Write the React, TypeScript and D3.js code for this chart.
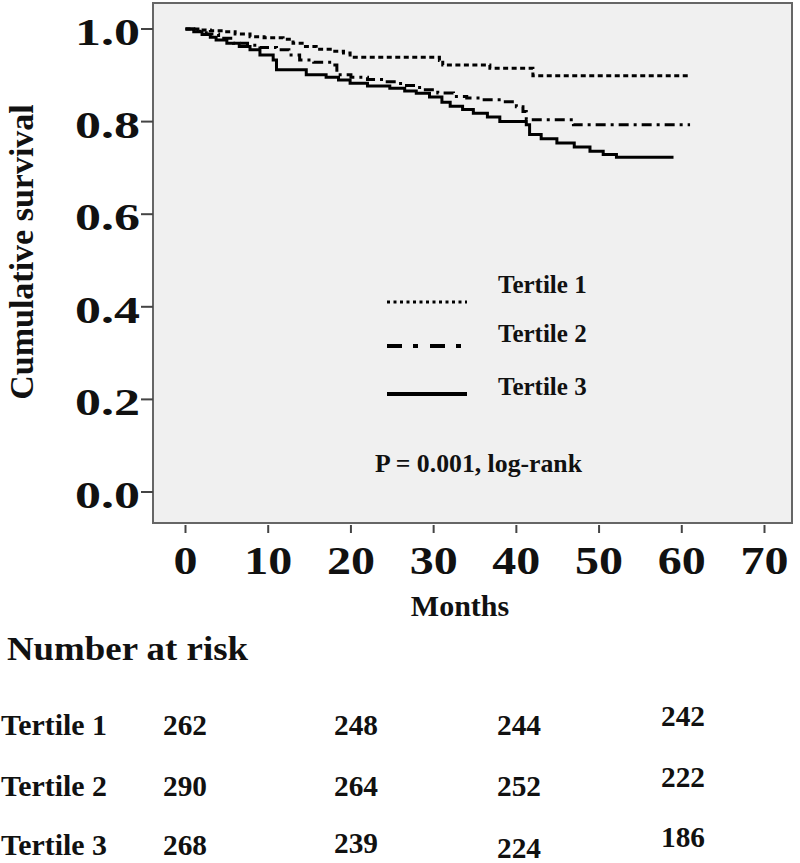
import React from "react";
import * as d3 from "d3";

// ---- data ----
const xTickValues = [0, 10, 20, 30, 40, 50, 60, 70];
const yTickValues = [0, 0.2, 0.4, 0.6, 0.8, 1.0];

const seriesNames = ["Tertile 1", "Tertile 2", "Tertile 3"];

const t1Time = [0, 1.5, 3, 4.5, 6, 7.8, 9.5, 11.8, 13, 14.5, 15.8, 17.5, 19.1, 19.9, 30.7, 31.1, 36.8, 42, 61];
const t1Surv = [1.0, 0.998, 0.996, 0.994, 0.989, 0.983, 0.981, 0.978, 0.969, 0.962, 0.956, 0.952, 0.948, 0.939, 0.932, 0.922, 0.915, 0.899, 0.899];

const t2Time = [0, 1, 2.5, 4, 5.8, 7.5, 9, 11, 12.5, 13.8, 15.5, 17.8, 18.3, 20, 22, 23.9, 26, 28.3, 30.5, 32.4, 34, 35.6, 38.4, 40, 40.8, 41.2, 46.9, 61];
const t2Surv = [1.0, 0.995, 0.989, 0.98, 0.969, 0.965, 0.96, 0.955, 0.944, 0.933, 0.928, 0.922, 0.901, 0.896, 0.891, 0.886, 0.878, 0.869, 0.862, 0.854, 0.851, 0.847, 0.843, 0.832, 0.822, 0.804, 0.793, 0.793];

const t3Time = [0, 1, 2, 3, 3.7, 5, 6.5, 7.8, 9, 10.6, 11, 14.6, 17, 18.5, 19.9, 22, 24.7, 26.5, 27.9, 29.5, 31, 32, 33.5, 34.8, 36.5, 38, 41.2, 41.6, 43, 44.9, 47, 48.9, 50.5, 52.1, 59];
const t3Surv = [1.0, 0.994, 0.988, 0.982, 0.976, 0.969, 0.962, 0.955, 0.944, 0.933, 0.912, 0.901, 0.896, 0.89, 0.883, 0.877, 0.872, 0.866, 0.861, 0.853, 0.842, 0.833, 0.826, 0.818, 0.81, 0.8, 0.793, 0.772, 0.763, 0.754, 0.745, 0.736, 0.729, 0.723, 0.723];

const riskRows = ["Tertile 1", "Tertile 2", "Tertile 3"];
const risk1 = [262, 248, 244, 242];
const risk2 = [290, 264, 252, 222];
const risk3 = [268, 239, 224, 186];

const pText = "P = 0.001, log-rank";

// ---- layout ----
const W = 800;
const H = 863;
const frame = { left: 153, top: 3, right: 792, bottom: 523 };
const FONT = "'Liberation Serif', 'Times New Roman', serif";

export default function App() {
  const x = d3.scaleLinear().domain([0, 70]).range([185.5, 764.5]);
  const y = d3.scaleLinear().domain([0, 1]).range([492, 29]);

  const line = d3
    .line<[number, number]>()
    .x((d) => x(d[0]))
    .y((d) => y(d[1]))
    .curve(d3.curveStepAfter);

  const series = [
    { time: t1Time, surv: t1Surv, dash: "5,3.5", width: 3 },
    { time: t2Time, surv: t2Surv, dash: "10,5,3,5", width: 3 },
    { time: t3Time, surv: t3Surv, dash: null as string | null, width: 3 },
  ];

  const legend = [
    { lineY: 302, textY: 293, dash: "3,3.5", width: 3 },
    { lineY: 346, textY: 342, dash: "15,11,5,12", width: 4 },
    { lineY: 394, textY: 395, dash: null as string | null, width: 4 },
  ];

  const riskData = [risk1, risk2, risk3];
  const riskRowY = [735, 796, 855];
  const riskColX = [163, 334, 497, 661];
  const riskDy = [
    [0, 0, 0, -9],
    [0, 0, 0, -9],
    [0, -2, 3, -8],
  ];

  return (
    <svg
      width={W}
      height={H}
      style={{ position: "absolute", left: 0, top: 0, background: "#fff" }}
      fontFamily={FONT}
      fontWeight="bold"
    >
      <rect x={0} y={0} width={W} height={H} fill="#fff" />
      {/* plot frame */}
      <rect
        x={frame.left}
        y={frame.top}
        width={frame.right - frame.left}
        height={frame.bottom - frame.top}
        fill="#f0f0f0"
        stroke="#666"
        strokeWidth={2}
      />

      {/* y axis ticks + labels */}
      {yTickValues.map((v) => (
        <g key={"y" + v}>
          <line x1={141} x2={frame.left} y1={y(v)} y2={y(v)} stroke="#444" strokeWidth={2} />
          <text
            x={140}
            y={y(v) + 16}
            textAnchor="end"
            fontSize={37}
            textLength={65}
            lengthAdjust="spacingAndGlyphs"
            fill="#111"
          >
            {v.toFixed(1)}
          </text>
        </g>
      ))}

      {/* x axis ticks + labels */}
      {xTickValues.map((v) => (
        <g key={"x" + v}>
          <line x1={x(v)} x2={x(v)} y1={frame.bottom + 2} y2={frame.bottom + 10} stroke="#444" strokeWidth={2} />
          <text
            x={x(v)}
            y={574}
            textAnchor="middle"
            fontSize={40}
            textLength={String(v).length * 24}
            lengthAdjust="spacingAndGlyphs"
            fill="#111"
          >
            {v}
          </text>
        </g>
      ))}

      <text x={460} y={616} textAnchor="middle" fontSize={30} fill="#111">
        Months
      </text>

      <text
        transform={`translate(33, 252) rotate(-90)`}
        textAnchor="middle"
        fontSize={34}
        fill="#111"
      >
        Cumulative survival
      </text>

      {/* curves */}
      {series.map((s, i) => (
        <path
          key={"s" + i}
          d={line(s.time.map((t, j) => [t, s.surv[j]] as [number, number])) || ""}
          fill="none"
          stroke="#000"
          strokeWidth={s.width}
          strokeDasharray={s.dash || undefined}
        />
      ))}

      {/* legend */}
      {legend.map((l, i) => (
        <g key={"l" + i}>
          <line
            x1={387}
            x2={467}
            y1={l.lineY}
            y2={l.lineY}
            stroke="#000"
            strokeWidth={l.width}
            strokeDasharray={l.dash || undefined}
          />
          <text x={498} y={l.textY} fontSize={25} fill="#111">
            {seriesNames[i]}
          </text>
        </g>
      ))}
      <text x={375} y={472} fontSize={25} fill="#111" textLength={207} lengthAdjust="spacingAndGlyphs">
        {pText}
      </text>

      {/* number at risk table */}
      <text x={7} y={660} fontSize={33} fill="#111" textLength={241} lengthAdjust="spacingAndGlyphs">
        Number at risk
      </text>
      {riskRows.map((name, r) => (
        <g key={"r" + r}>
          <text x={1} y={riskRowY[r]} fontSize={30} fill="#111" textLength={106} lengthAdjust="spacingAndGlyphs">
            {name}
          </text>
          {riskData[r].map((v, c) => (
            <text
              key={c}
              x={riskColX[c]}
              y={riskRowY[r] + riskDy[r][c]}
              fontSize={29}
              fill="#111"
              textLength={44}
              lengthAdjust="spacingAndGlyphs"
            >
              {v}
            </text>
          ))}
        </g>
      ))}
    </svg>
  );
}
